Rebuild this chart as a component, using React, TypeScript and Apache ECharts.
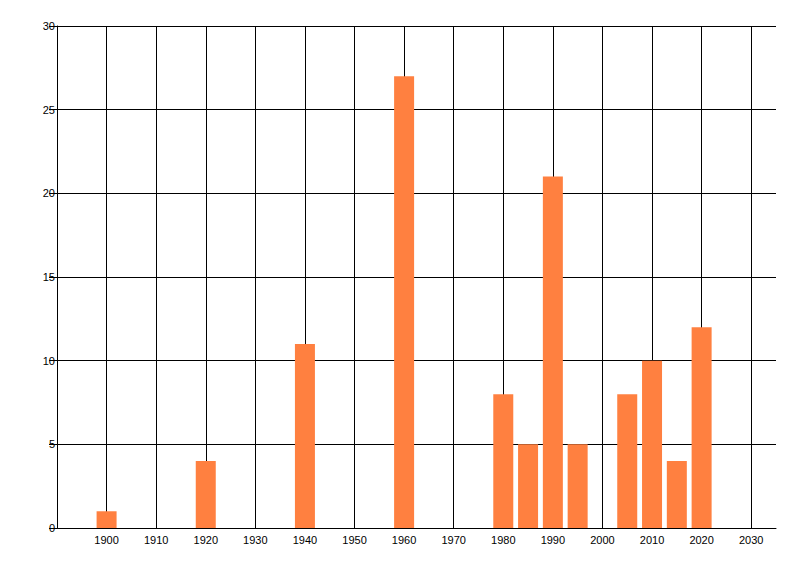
import React, { useEffect, useRef } from "react";
import * as echarts from "echarts";

const years = [1900, 1920, 1940, 1960, 1980, 1985, 1990, 1995, 2005, 2010, 2015, 2020];
const counts = [1, 4, 11, 27, 8, 5, 21, 5, 8, 10, 4, 12];
const xMin = 1890;
const xMax = 2035;
const gridMax = 2030;
const yMax = 30;

export default function App() {
  const ref = useRef<HTMLDivElement>(null);
  useEffect(() => {
    if (!ref.current) return;
    const chart = echarts.init(ref.current, undefined, { renderer: "svg" });
    const font = { fontFamily: "Liberation Sans", fontSize: 11, color: "#000" };
    const pxPerYear = (800 - 57 - 24) / (xMax - xMin);
    const gridRight = 800 - 57 - (gridMax - xMin) * pxPerYear;
    chart.setOption({
      animation: false,
      backgroundColor: "#fff",
      grid: [
        { left: 57, right: 24, top: 26, bottom: 48 },
        { left: 57, right: gridRight, top: 26, bottom: 48 },
      ],
      xAxis: [
        {
          type: "value",
          gridIndex: 0,
          min: xMin,
          max: xMax,
          interval: 10,
          axisLine: { show: true, lineStyle: { color: "#000", width: 1 } },
          axisTick: { show: false },
          splitLine: { show: false },
          axisLabel: {
            ...font,
            margin: 6,
            formatter: (v: number) => (v === xMin || v === xMax ? "" : String(v)),
          },
        },
        {
          type: "value",
          gridIndex: 1,
          min: xMin,
          max: gridMax,
          interval: 10,
          axisLine: { show: false },
          axisTick: { show: false },
          axisLabel: { show: false },
          splitLine: { show: true, lineStyle: { color: "#000", width: 1 } },
        },
      ],
      yAxis: [
        {
          type: "value",
          gridIndex: 0,
          min: 0,
          max: yMax,
          interval: 5,
          axisLine: { show: true, lineStyle: { color: "#000", width: 1 } },
          axisTick: { show: true, length: 8, lineStyle: { color: "#000" } },
          splitLine: { show: true, lineStyle: { color: "#000", width: 1 } },
          axisLabel: { ...font, margin: 2 },
        },
        {
          type: "value",
          gridIndex: 1,
          min: 0,
          max: yMax,
          show: false,
        },
      ],
      series: [
        {
          type: "bar",
          xAxisIndex: 0,
          yAxisIndex: 0,
          barWidth: 20,
          itemStyle: { color: "#FF8040" },
          data: years.map((y, i) => [y, counts[i]]),
        },
      ],
    });
    return () => chart.dispose();
  }, []);
  return (
    <div
      ref={ref}
      style={{ position: "fixed", left: 0, top: 0, width: 800, height: 576 }}
    />
  );
}
